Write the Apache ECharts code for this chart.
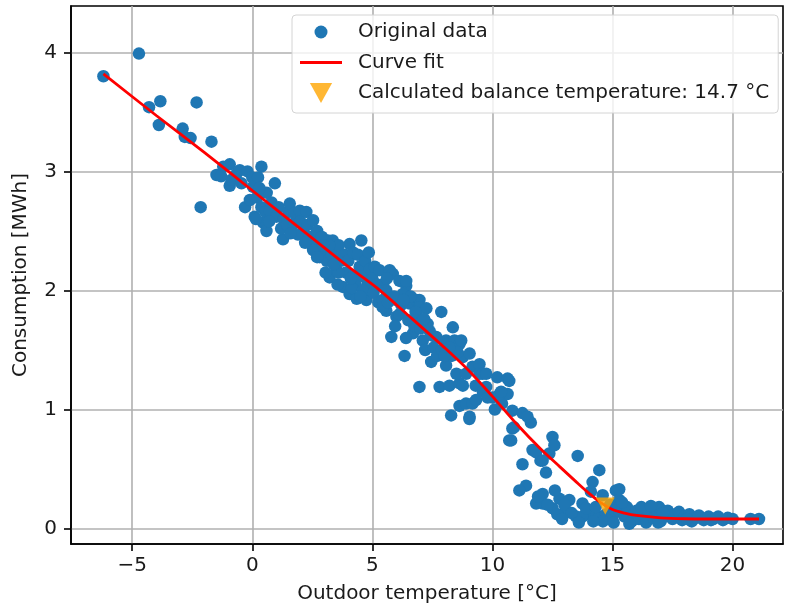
<!DOCTYPE html>
<html>
<head>
<meta charset="utf-8">
<script src="https://cdn.jsdelivr.net/npm/echarts@6/dist/echarts.min.js"></script>
<style>
  html, body { margin: 0; padding: 0; background: #fff; }
  #chart { width: 785px; height: 610px; }
</style>
</head>
<body>
<div id="chart"></div>
<script>
// Daily observations: [outdoor temperature °C, consumption MWh]
const obsCold = [
  [-6.2,3.80],[-4.72,3.99],[-4.30,3.54],[-3.83,3.59],[-3.89,3.39],[-2.32,3.58],
  [-2.90,3.36],[-2.81,3.29],[-2.57,3.28],[-1.70,3.25],[-2.15,2.70],[-1.21,3.04],
  [-1.49,2.97],[-0.94,3.06],[-0.94,2.88],[-0.66,2.98],[-0.86,2.93],[-0.52,3.01],
  [-1.30,2.96],[-0.45,2.90],[-0.30,2.70],[-0.20,3.00],[-0.10,2.76]
];
const obsCool = [
  [0.00,2.95],[0.03,2.87],[0.24,2.95],[0.38,3.04],[0.20,2.78],[0.38,2.70],
  [0.45,2.57],[0.55,2.66],[0.73,2.67],[0.94,2.90],[0.60,2.82],[0.80,2.74],
  [1.00,2.62],[1.10,2.70],[1.28,2.43],[1.30,2.60],[1.50,2.66],[1.56,2.73],
  [1.70,2.56],[1.75,2.65],[1.98,2.67],[2.00,2.58],[2.11,2.49],[2.25,2.66],
  [2.30,2.55],[0.59,2.50],[0.10,2.62],[0.30,2.86],[1.20,2.52],[1.45,2.55],
  [1.90,2.47],[2.40,2.45],[0.70,2.58],[0.15,2.60],[2.53,2.59],[2.60,2.42],
  [2.81,2.34],[2.53,2.34],[2.81,2.28],[3.15,2.42],[3.22,2.11],[3.35,2.42],
  [3.50,2.17],[3.77,2.03],[4.05,2.39],[4.05,1.97],[4.54,2.42],[4.47,2.20],
  [4.75,1.92],[4.35,1.93],[2.70,2.50],[2.90,2.45],[3.00,2.30],[3.10,2.25],
  [3.30,2.30],[3.45,2.33],[3.60,2.38],[3.70,2.25],[3.85,2.30],[3.90,2.15],
  [4.00,2.25],[4.20,2.32],[4.20,2.12],[4.30,2.05],[4.40,2.30],[4.60,2.12],
  [4.70,2.25],[4.80,2.05],[4.90,2.18],[3.20,2.38],[2.95,2.38],[3.55,2.05],
  [4.15,2.02],[4.60,2.00],[4.85,2.32],[3.60,2.15],[2.70,2.28],[3.05,2.15],
  [4.50,1.95],[1.60,2.48],[2.20,2.40],[3.40,2.22],[4.10,2.10]
];
const obsMild = [
  [5.00,2.10],[5.05,1.98],[5.10,2.20],[5.20,2.05],[5.25,1.90],[5.30,2.17],
  [5.43,1.92],[5.58,1.83],[5.45,2.05],[5.72,2.17],[5.85,2.14],[6.13,2.08],
  [6.41,2.04],[6.41,2.08],[5.58,2.00],[5.43,1.86],[6.00,1.92],[6.27,1.97],
  [6.55,1.89],[6.83,1.92],[6.96,1.92],[6.96,1.86],[6.88,1.78],[6.00,1.78],
  [6.13,1.80],[5.79,1.61],[6.34,1.45],[6.69,1.64],[7.10,1.58],[7.38,1.66],
  [7.30,1.72],[7.45,1.40],[7.66,1.61],[7.87,1.82],[6.96,1.19],[7.80,1.19],
  [5.90,1.95],[6.20,1.88],[6.50,1.75],[6.60,1.95],[6.75,1.70],[7.00,1.68],
  [7.20,1.50],[7.55,1.52],[7.70,1.45],[7.90,1.50],[5.65,1.90],[6.40,1.60],
  [5.95,1.70],[7.25,1.85],[8.07,1.58],[8.13,1.55],[8.35,1.69],[8.42,1.58],
  [8.07,1.37],[8.21,1.20],[8.63,1.22],[8.28,0.95],[8.63,1.03],[8.90,1.05],
  [9.05,0.94],[9.17,1.05],[8.63,1.55],[8.76,1.44],[9.05,1.47],[9.17,1.36],
  [9.46,1.38],[9.46,1.30],[9.59,1.30],[9.74,1.19],[10.00,1.10],[10.20,1.27],
  [8.70,1.58],[8.77,1.20],[9.04,0.92],[9.32,1.08],[9.74,1.30],[8.50,1.30],
  [8.30,1.45],[9.30,1.20],[9.60,1.15],[10.10,1.00],[8.90,1.30],[8.55,1.48],
  [5.60,2.10],[6.30,1.92],[6.80,1.82],[7.15,1.76],[7.50,1.62],[8.00,1.45],
  [8.20,1.52],[9.80,1.10],[10.40,1.05]
];
const obsWarm = [
  [10.63,1.26],[10.63,1.13],[10.30,1.13],[10.36,1.15],[10.83,0.99],[11.25,0.97],
  [11.60,0.89],[10.83,0.84],[11.46,0.94],[10.90,0.85],[10.70,1.24],[10.70,0.74],
  [10.78,0.74],[11.25,0.54],[11.67,0.66],[12.00,0.57],[12.50,0.77],[12.37,0.63],
  [12.58,0.70],[11.82,0.64],[12.09,0.57],[12.23,0.47],[13.55,0.61],[14.45,0.49],
  [11.40,0.36],[11.12,0.32],[12.09,0.29],[12.09,0.21],[12.79,0.25],[13.20,0.24],
  [13.06,0.15],[13.75,0.21],[14.17,0.39],[14.10,0.31],[14.59,0.28],[15.14,0.32],
  [15.28,0.24],[13.48,0.10],[14.03,0.12],[14.45,0.10],[12.50,0.17],[11.82,0.21],
  [13.75,0.10],[14.73,0.12],[14.99,0.10],[12.30,0.20],[12.70,0.12],[13.00,0.20],
  [13.30,0.13],[13.90,0.17],[14.30,0.18],[14.60,0.06],[13.60,0.05],[14.20,0.06],
  [12.90,0.08],[11.90,0.27],[15.28,0.33],[12.60,0.32],[14.90,0.20],[15.10,0.15]
];
const obsSummer = [
  [15.30,0.14],[15.50,0.10],[15.60,0.18],[15.80,0.06],[15.90,0.12],[16.00,0.15],
  [16.10,0.08],[16.30,0.11],[16.40,0.05],[16.50,0.14],[16.70,0.09],[16.80,0.12],
  [16.94,0.18],[17.00,0.06],[17.20,0.10],[17.30,0.15],[17.50,0.08],[17.60,0.12],
  [17.77,0.14],[17.90,0.07],[18.00,0.10],[18.20,0.12],[18.30,0.06],[18.50,0.09],
  [18.60,0.11],[18.80,0.07],[19.00,0.10],[19.20,0.08],[19.40,0.10],[19.60,0.07],
  [19.80,0.09],[20.00,0.08],[20.75,0.08],[21.10,0.08],[15.40,0.22],[16.20,0.18],
  [16.60,0.19],[15.70,0.04],[17.10,0.13],[18.10,0.08],[19.10,0.07],[15.05,0.05],
  [16.90,0.05]
];

// Fitted heating curve
const fitTemp        = [-6.2, -4, -2, 0, 2, 4, 5.2, 6.5, 8, 9, 10, 11, 12, 12.8, 13.5, 14, 14.5, 15, 15.5, 16, 17, 18, 19, 21.1];
const fitConsumption = [3.82, 3.47, 3.16, 2.84, 2.52, 2.20, 2.02, 1.79, 1.52, 1.33, 1.11, 0.88, 0.67, 0.52, 0.39, 0.30, 0.22, 0.16, 0.13, 0.11, 0.09, 0.082, 0.08, 0.08];

// Balance point
const balanceTemp = 14.7;
const balanceConsumption = 0.19;

// Tick labels
const xTicks = [-5, 0, 5, 10, 15, 20];
const yTicks = [0, 1, 2, 3, 4];

const observations = [].concat(obsCold, obsCool, obsMild, obsWarm, obsSummer);
const fitLine = fitTemp.map((t, i) => [t, fitConsumption[i]]);

const FONT = 'DejaVu Sans';
const FS = 20;
const TXT = '#1a1a1a';
const triPath = 'path://M0,0 L20,0 L10,18 Z';
// legend glyphs padded with invisible move-to points so they keep their size in the 20px slot
const dotPath  = 'path://M0,0 M20,20 M16.5,10 A6.5,6.5 0 1 1 3.5,10 A6.5,6.5 0 1 1 16.5,10 Z';
const linePath = 'path://M0,0 M42,20 M0,8.5 L42,8.5 L42,11.5 L0,11.5 Z';

const chart = echarts.init(document.getElementById('chart'), null, { renderer: 'canvas' });
chart.setOption({
  animation: false,
  backgroundColor: '#fff',
  textStyle: { fontFamily: FONT },
  grid: {
    left: 71, top: 6, right: 2, bottom: 66,
    show: true, borderColor: '#000', borderWidth: 1.6, backgroundColor: 'transparent'
  },
  legend: {
    orient: 'vertical',
    left: 292, top: 15,
    padding: [5, 9, 8, 8],
    itemWidth: 42, itemHeight: 20, itemGap: 6.5,
    backgroundColor: 'rgba(255,255,255,0.8)',
    borderColor: '#d4d4d4', borderWidth: 1, borderRadius: 4,
    textStyle: { fontFamily: FONT, fontSize: FS, color: TXT, padding: [0, 0, 0, 11], lineHeight: 24 },
    data: [
      { name: 'Original data', icon: dotPath },
      { name: 'Curve fit', icon: linePath },
      { name: 'Calculated balance temperature: 14.7 °C', icon: triPath }
    ]
  },
  xAxis: {
    type: 'value', min: -7.55, max: 22.1,
    name: 'Outdoor temperature [°C]', nameLocation: 'middle', nameGap: 40,
    nameTextStyle: { fontFamily: FONT, fontSize: FS, color: TXT },
    axisLine: { show: true, onZero: false, lineStyle: { color: '#000', width: 1.6 } },
    axisTick: { show: true, inside: false, customValues: xTicks, length: 7, lineStyle: { color: '#000', width: 1.6 } },
    axisLabel: {
      customValues: xTicks, margin: 12, fontFamily: FONT, fontSize: FS, color: TXT,
      formatter: v => String(v).replace('-', '\u2212')
    },
    splitLine: { show: true, lineStyle: { color: '#b0b0b0', width: 1.6 } }
  },
  yAxis: {
    type: 'value', min: -0.13, max: 4.39,
    name: 'Consumption [MWh]', nameLocation: 'middle', nameGap: 40,
    nameTextStyle: { fontFamily: FONT, fontSize: FS, color: TXT },
    axisLine: { show: true, onZero: false, lineStyle: { color: '#000', width: 1.6 } },
    axisTick: { show: true, inside: false, customValues: yTicks, length: 7, lineStyle: { color: '#000', width: 1.6 } },
    axisLabel: { customValues: yTicks, margin: 14, fontFamily: FONT, fontSize: FS, color: TXT },
    splitLine: { show: true, lineStyle: { color: '#b0b0b0', width: 1.6 } }
  },
  series: [
    {
      name: 'Original data', type: 'scatter', data: observations,
      symbol: 'circle', symbolSize: 12.5,
      itemStyle: { color: '#1f77b4', opacity: 1 }
    },
    {
      name: 'Curve fit', type: 'line', data: fitLine, smooth: 0.3,
      symbol: 'none', showSymbol: false,
      lineStyle: { color: '#ff0000', width: 2.8 }, itemStyle: { color: '#ff0000' }
    },
    {
      name: 'Calculated balance temperature: 14.7 °C', type: 'scatter',
      data: [[balanceTemp, balanceConsumption]],
      symbol: triPath, symbolSize: [19, 17],
      itemStyle: { color: '#ffa500' }, z: 5
    }
  ]
});
</script>
</body>
</html>
